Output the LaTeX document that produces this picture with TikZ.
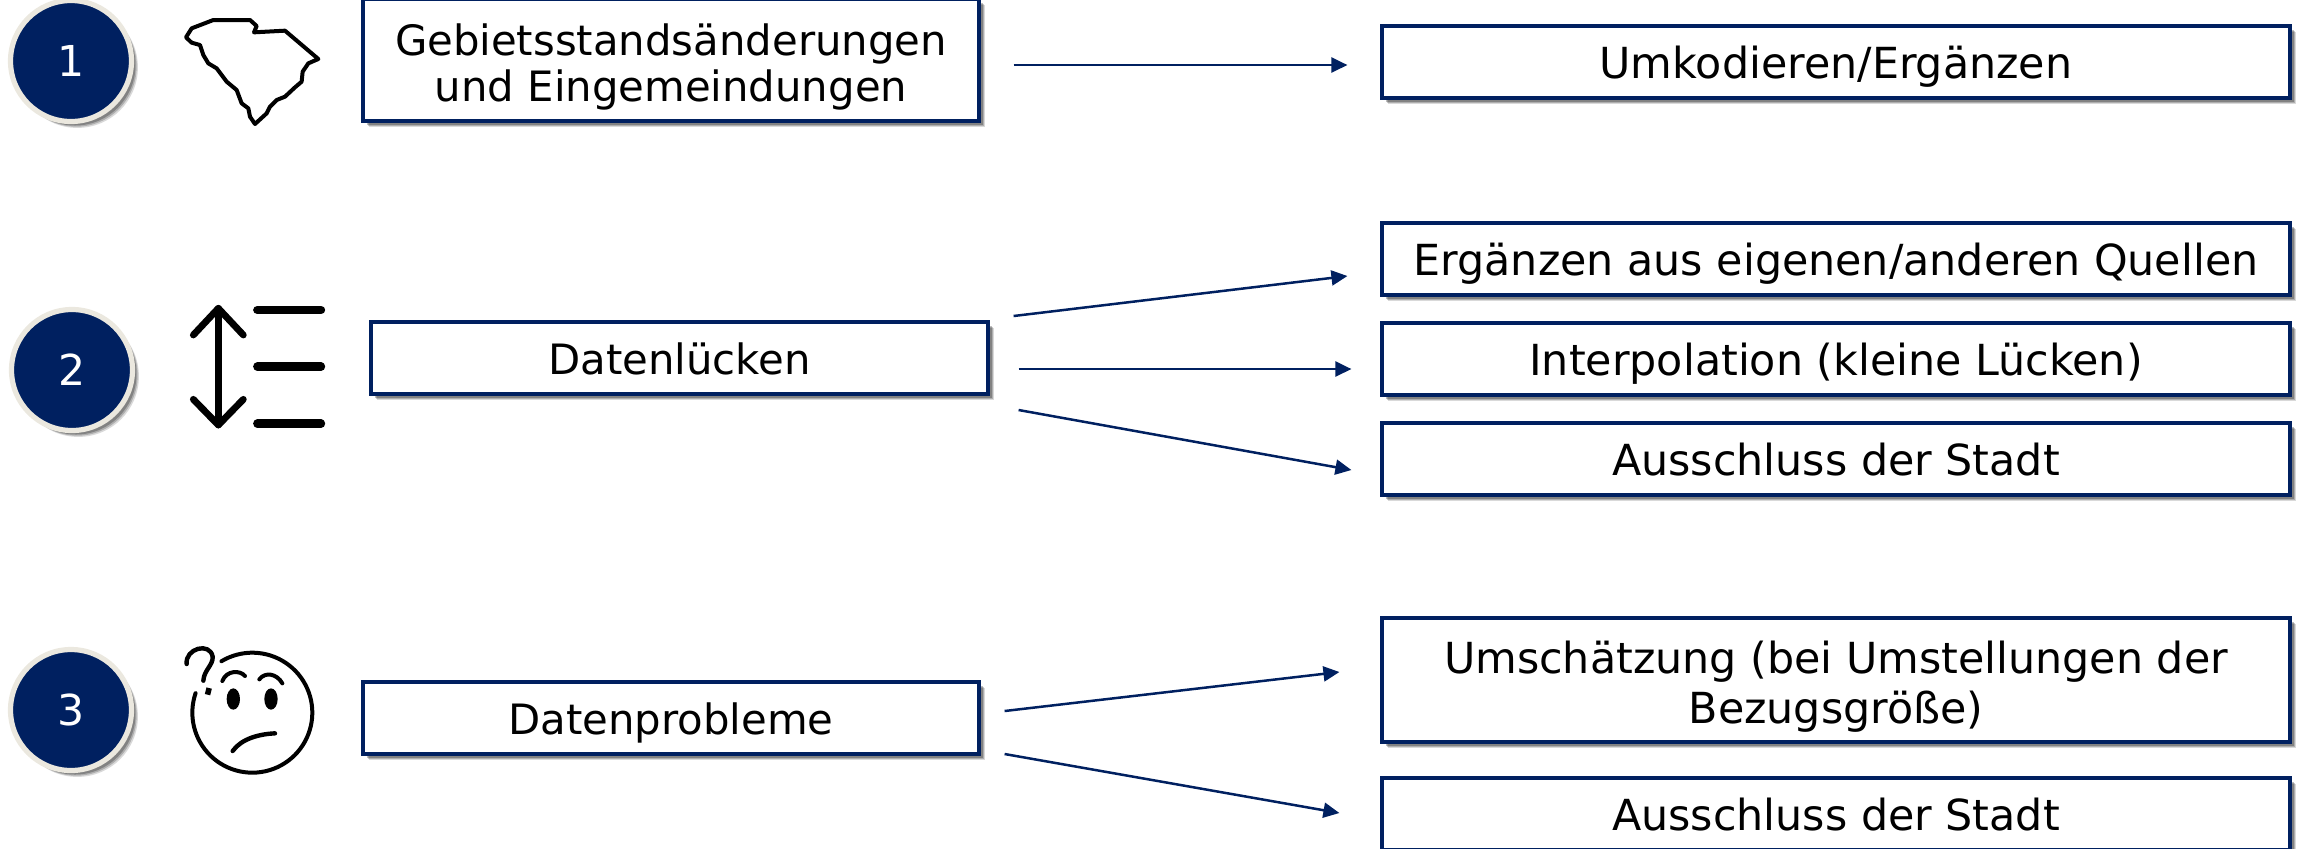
\documentclass[tikz,border=0pt]{standalone}
\usepackage{fontspec}
\setmainfont{DejaVu Sans}
\usetikzlibrary{arrows.meta,calc,shadows}
\definecolor{navy}{HTML}{002060}
\definecolor{ringcol}{HTML}{EBE8DF}
\newcommand{\twolines}[1]{\raisebox{-1.6pt}[0pt][0pt]{\begin{tabular}{@{}c@{}}#1\end{tabular}}}
\begin{document}
\begin{tikzpicture}[x=0.5pt,y=-0.5pt]
	\tikzset{>={Triangle[length=8pt,width=7.5pt]}}
	\tikzset{softshadow/.style={
		drop shadow={shadow xshift=3.2pt,shadow yshift=-3.2pt,opacity=.15,fill=black},
		drop shadow={shadow xshift=2.6pt,shadow yshift=-2.6pt,opacity=.2,fill=black},
		drop shadow={shadow xshift=2pt,shadow yshift=-2pt,opacity=.25,fill=black}}}
	\tikzset{numcircle/.style={circle,fill=navy,draw=ringcol,line width=2.6pt,minimum size=60.5pt,inner sep=0pt,text=white,font=\fontsize{21.3}{25}\selectfont,softshadow}}
	\tikzset{textbox/.style={rectangle,fill=white,draw=navy,line width=1.6pt,inner sep=0pt,font=\fontsize{21.4}{25}\selectfont,execute at begin node={\rule[-6pt]{0pt}{28pt}},softshadow}}
	\tikzset{leftbox/.style={textbox,font=\fontsize{20.9}{25}\selectfont}}
	\tikzset{link/.style={draw=navy,line width=1.25pt,->}}
	\tikzset{icon/.style={draw=black,line join=round,line cap=round}}

	\useasboundingbox (0,0) rectangle (2305,848);

	\node[numcircle] (n1) at (71,61) {1};
	\node[numcircle] (n2) at (72,370) {2};
	\node[numcircle] (n3) at (71,710) {3};

	\node[leftbox,minimum width=308pt,minimum height=61pt] (gebiet) at (671,60) {\twolines{Gebietsstandsänderungen\\[-2pt]und Eingemeindungen}};
	\node[leftbox,minimum width=308.5pt,minimum height=36pt] (luecken) at (679.5,358) {Datenlücken};
	\node[leftbox,minimum width=308pt,minimum height=36pt] (probleme) at (671,718) {Datenprobleme};

	\node[textbox,minimum width=454pt,minimum height=36pt] (umkod) at (1836,62) {Umkodieren/Ergänzen};
	\node[textbox,minimum width=454pt,minimum height=36pt] (ergaenz) at (1836,259) {Ergänzen aus eigenen/anderen Quellen};
	\node[textbox,minimum width=454pt,minimum height=36pt] (interp) at (1836,359) {Interpolation (kleine Lücken)};
	\node[textbox,minimum width=454pt,minimum height=36pt] (aus2) at (1836,459) {Ausschluss der Stadt};
	\node[textbox,minimum width=454pt,minimum height=62pt] (umsch) at (1836,680) {\twolines{Umschätzung (bei Umstellungen der\\Bezugsgröße)}};
	\node[textbox,minimum width=454pt,minimum height=36pt] (aus3) at (1836,814) {Ausschluss der Stadt};

	\draw[link] ($(gebiet.east)+(33,5)$) -- ($(umkod.west)+(-33,3)$);
	\draw[link] ($(luecken.east)+(24,-42)$) -- ($(ergaenz.west)+(-33,17)$);
	\draw[link] ($(luecken.east)+(29,11)$) -- ($(interp.west)+(-29,10)$);
	\draw[link] ($(luecken.east)+(29,52)$) -- ($(aus2.west)+(-29,11)$);
	\draw[link] ($(probleme.east)+(24,-7)$) -- ($(umsch.west)+(-41,-8)$);
	\draw[link] ($(probleme.east)+(24,36)$) -- ($(aus3.west)+(-41,-1)$);

	\begin{scope}[scale=1/3]
		\draw[icon,line width=2pt] (558,112) -- (575,85) -- (640,60) -- (750,60) -- (770,78) -- (762,97) -- (855,92) -- (955,177) -- (925,190) -- (908,215) -- (905,245) -- (885,262) -- (855,290) -- (830,300) -- (810,320) -- (800,340) -- (765,372) -- (750,350) -- (745,325) -- (725,310) -- (710,270) -- (680,245) -- (650,205) -- (625,190) -- (610,165) -- (600,135) -- (575,128) -- cycle;
	\end{scope}

	\begin{scope}[shift={(0,280)},scale=1/3]
		\draw[icon,line width=3.4pt] (655,85) -- (655,435);
		\draw[icon,line width=3.4pt] (580,165) -- (655,85) -- (730,165);
		\draw[icon,line width=3.4pt] (580,358) -- (655,435) -- (730,358);
		\foreach \y in {90,260,431}
			\draw[icon,line width=4.2pt] (772,\y) -- (963,\y);
	\end{scope}

	\begin{scope}[shift={(0,620)},scale=1/3]
		\draw[icon,line width=2pt] plot[domain=121:-199,samples=80,smooth] ({757+180*cos(\x)},{278-180*sin(\x)});
		\draw[icon,line width=2.2pt] (560,132) .. controls (555,85) and (630,65) .. (638,110) .. controls (640,135) and (612,150) .. (610,182);
		\draw[icon,line width=3.4pt,line cap=butt] (617,212) -- (633,216);
		\draw[icon,line width=2pt] (667,183) .. controls (680,150) and (720,150) .. (735,168);
		\draw[icon,line width=2pt] (778,178) .. controls (795,155) and (830,160) .. (847,190);
		\fill (700,237) ellipse [x radius=20,y radius=32];
		\fill (813,237) ellipse [x radius=20,y radius=32];
		\draw[icon,line width=2.2pt] (698,393) .. controls (725,355) and (780,342) .. (825,340);
	\end{scope}
\end{tikzpicture}
\end{document}
